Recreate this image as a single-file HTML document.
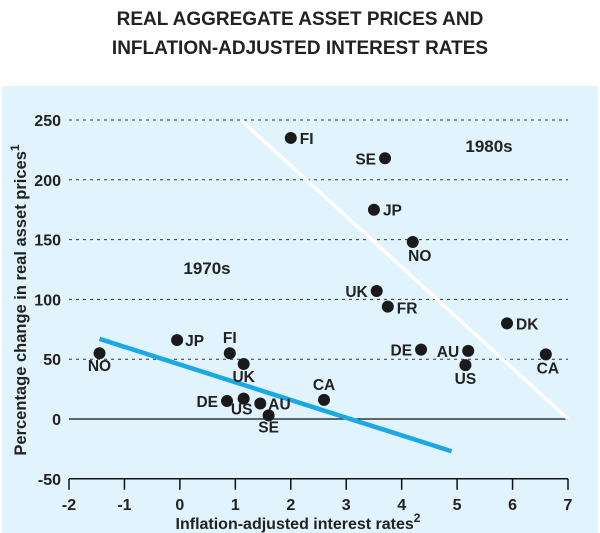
<!DOCTYPE html>
<html><head><meta charset="utf-8"><style>
body{margin:0;background:#fff;font-family:"Liberation Sans",sans-serif}
svg{display:block}
text{font-family:"Liberation Sans",sans-serif;font-weight:bold;fill:#222}
</style></head><body>
<svg id="c" width="600" height="533">
<rect x="2" y="86" width="596" height="447" fill="#e1f3fd"/>
<text x="300" y="25" text-anchor="middle" font-size="19" fill="#111">REAL AGGREGATE ASSET PRICES AND</text>
<text x="300" y="54" text-anchor="middle" font-size="19" fill="#111">INFLATION-ADJUSTED INTEREST RATES</text>
<g id="g"></g>
</svg>
<script>
const xTicks=[-2,-1,0,1,2,3,4,5,6,7];
const yTicks=[-50,0,50,100,150,200,250];
const labels70=["NO","JP","FI","UK","DE","US","AU","SE","CA"];
const x70=[-1.45,-0.05,0.9,1.15,0.85,1.15,1.45,1.6,2.6];
const y70=[55,66,55,46,15,17,13,3,16];
const labels80=["FI","SE","JP","NO","UK","FR","DE","AU","US","DK","CA"];
const x80=[2,3.7,3.5,4.2,3.55,3.75,4.35,5.2,5.15,5.9,6.6];
const y80=[235,218,175,148,107,94,58,57,45,80,54];
const fit70x=[-1.45,4.9], fit70y=[67,-27];
const fit80x=[1.1,7], fit80y=[250,0];
const off70=[[0,18,"middle"],[8,6,"start"],[0,-10,"middle"],[0,18,"middle"],[-9,6,"end"],[-2,16,"middle"],[8,6,"start"],[0,17,"middle"],[0,-10,"middle"]];
const off80=[[9,6,"start"],[-9,6,"end"],[9,6,"start"],[7,19,"middle"],[-9,6,"end"],[9,7,"start"],[-9,6,"end"],[-9,6,"end"],[0,19,"middle"],[9,6,"start"],[2,19,"middle"]];
const X=v=>69+(v+2)*(568-69)/9;
const Y=v=>419-v*(419-120)/250;
const g=document.getElementById('g');
const NS="http://www.w3.org/2000/svg";
function mk(t,a){const e=document.createElementNS(NS,t);for(const k in a)e.setAttribute(k,a[k]);g.appendChild(e);return e;}
yTicks.forEach(v=>{
 if(v>0){const l=mk('line',{x1:69,x2:568,y1:Y(v),y2:Y(v),stroke:'#333','stroke-width':1,'stroke-dasharray':'3,4'});
 
 }
 const t=mk('text',{x:61,y:Y(v)+6,'text-anchor':'end','font-size':16});t.textContent=v;
 
 
});
const z=mk('line',{x1:69,x2:568,y1:Y(0),y2:Y(0),stroke:'#111','stroke-width':1.3});


const xa=mk('line',{x1:69,x2:568,y1:Y(-50),y2:Y(-50),stroke:'#111','stroke-width':1.5});


xTicks.forEach(v=>{
 const l=mk('line',{x1:X(v),x2:X(v),y1:Y(-50),y2:Y(-50)+11,stroke:'#111','stroke-width':1.5});
 
 
 const t=mk('text',{x:X(v),y:510,'text-anchor':'middle','font-size':16});t.textContent=v;
 
 
});
const f7=mk('line',{x1:X(fit70x[0]),y1:Y(fit70y[0]),x2:X(fit70x[1]),y2:Y(fit70y[1]),stroke:'#1aa9e6','stroke-width':4.5});


const f8=mk('line',{x1:X(fit80x[0]),y1:Y(fit80y[0]),x2:X(fit80x[1]),y2:Y(fit80y[1]),stroke:'#fff','stroke-width':3.5});


function pts(lab,xs,ys,off,era){
 lab.forEach((n,i)=>{
  const c=mk('circle',{cx:X(xs[i]),cy:Y(ys[i]),r:6,fill:'#1a1a1a'});
  
  
  const o=off[i];
  const t=mk('text',{x:X(xs[i])+o[0],y:Y(ys[i])+o[1],'text-anchor':o[2],'font-size':15.5});t.textContent=n;
  
  
 });
}
pts(labels70,x70,y70,off70,'1970s');
pts(labels80,x80,y80,off80,'1980s');
const a=mk('text',{x:207,y:274,'text-anchor':'middle','font-size':17});a.textContent='1970s';


const b=mk('text',{x:489,y:152,'text-anchor':'middle','font-size':17});b.textContent='1980s';


const xt=mk('text',{x:298,y:529,'text-anchor':'middle','font-size':16});
xt.innerHTML='Inflation-adjusted interest rates<tspan dy="-7" font-size="12">2</tspan>';


const yt=mk('text',{x:0,y:0,'text-anchor':'middle','font-size':16.5,transform:'translate(26,300) rotate(-90)'});
yt.innerHTML='Percentage change in real asset prices<tspan dy="-7" font-size="12">1</tspan>';


</script>
</body></html>
